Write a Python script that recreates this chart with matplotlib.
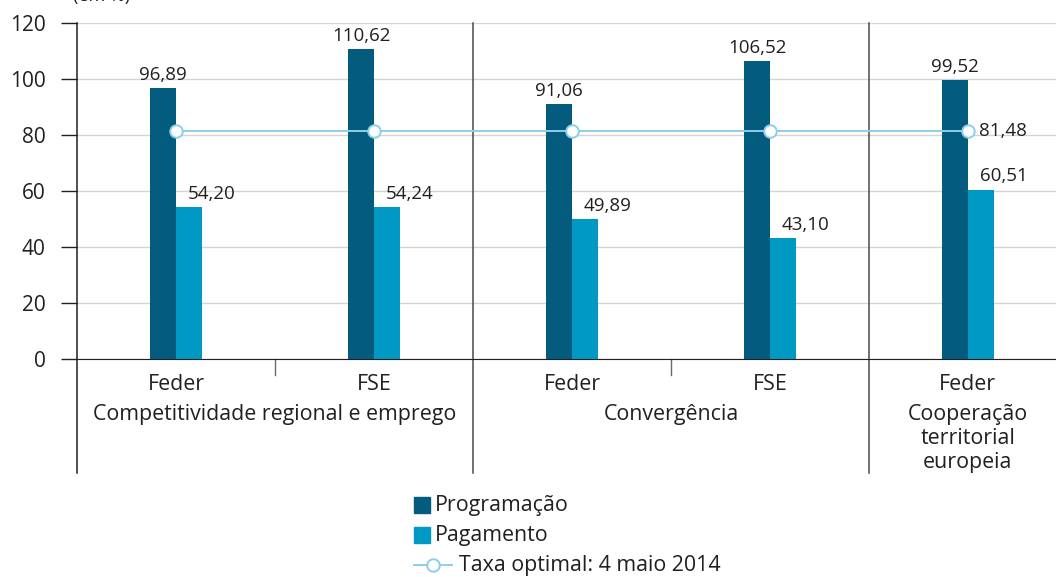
import matplotlib

matplotlib.use("Agg")
import matplotlib.pyplot as plt
from matplotlib.lines import Line2D
from matplotlib.patches import Rectangle

plt.rcParams["font.family"] = ["Open Sans", "DejaVu Sans"]

funds = ["Feder", "FSE", "Feder", "FSE", "Feder"]
groups = ["Competitividade regional e emprego", "Convergência",
          "Cooperação\nterritorial\neuropeia"]
group_spans = [(0, 1), (2, 3), (4, 4)]
programacao = [96.89, 110.62, 91.06, 106.52, 99.52]
pagamento = [54.20, 54.24, 49.89, 43.10, 60.51]
taxa_optimal = 81.48
legend_labels = ["Programação", "Pagamento", "Taxa optimal: 4 maio 2014"]

DARK = "#035b7e"
LIGHT = "#0099c4"
LINE = "#8dcfe8"
INK = "#231f20"
FS = 15.4

W, H = 1056, 577
fig = plt.figure(figsize=(W / 100, H / 100), dpi=100)
ax = fig.add_axes([77 / W, 1 - 359 / H, 1 - 77 / W, (359 - 23) / H])

x = list(range(len(funds)))
w = 0.13
ax.bar([i - w / 2 for i in x], programacao, w, color=DARK, zorder=3)
ax.bar([i + w / 2 for i in x], pagamento, w, color=LIGHT, zorder=3)
ax.plot(x, [taxa_optimal] * len(x), color=LINE, lw=1.4, zorder=4,
        marker="o", ms=9, mfc="white", mec=LINE, mew=1.4)

fmt = lambda v: f"{v:.2f}".replace(".", ",")
for i, (p, q) in enumerate(zip(programacao, pagamento)):
    ax.text(i - w / 2, p + 1.5, fmt(p), ha="center", va="bottom",
            fontsize=13.5, color=INK, zorder=5)
    ax.text(i + w / 2 - 0.005, q + 1.5, fmt(q), ha="left", va="bottom",
            fontsize=13.5, color=INK, zorder=5)
ax.text(x[-1] + 0.055, taxa_optimal, fmt(taxa_optimal), ha="left", va="center",
        fontsize=13.5, color=INK, zorder=5)

ax.set_xlim(-0.5, 4.445)
ax.set_ylim(0, 120)
ax.set_yticks(range(0, 121, 20))
ax.tick_params(axis="y", labelsize=15, colors=INK, length=11.5, width=1, pad=11)
ax.set_xticks([])
ax.grid(axis="y", color="#d4d4d4", lw=1, zorder=0)
for s in ["top", "right", "left"]:
    ax.spines[s].set_visible(False)
ax.spines["bottom"].set_color(INK)

# group separators, running down through the category labels
tr = ax.get_xaxis_transform()
bottom = -(473 - 359) / (359 - 23)
for xs in [-0.5, 1.5, 3.5]:
    ax.add_line(Line2D([xs, xs], [bottom, 1], transform=tr,
                       color=INK if xs < 0 else "#4a4a4a", lw=1.1, clip_on=False))
for xs in [0.5, 2.5]:
    ax.add_line(Line2D([xs, xs], [0, -16 / 336], transform=tr,
                       color="#6a6a6a", lw=1, clip_on=False))

for i, f in enumerate(funds):
    ax.text(i, -26 / 336, f, transform=tr, ha="center", va="center",
            fontsize=FS, color=INK)
for g, (a, b) in zip(groups, group_spans):
    ax.text((a + b) / 2, -45 / 336, g, transform=tr, ha="center", va="top",
            fontsize=FS, color=INK, linespacing=1.2)

# unit note, cropped at the top edge as in the source
fig.text(73 / W, 1 + 4 / H, "(em %)", ha="left", va="center", fontsize=13, color=INK)

# legend drawn by hand: line entry is wider than the swatches
rows = [1 - 505 / H, 1 - 535 / H, 1 - 565 / H]
for y, c in zip(rows[:2], [DARK, LIGHT]):
    fig.add_artist(Rectangle((414 / W, y - 8 / H), 16 / W, 16 / H,
                             transform=fig.transFigure, color=c))
fig.add_artist(Line2D([414 / W, 452 / W], [rows[2]] * 2, transform=fig.transFigure,
                      color=LINE, lw=1.4))
fig.add_artist(Line2D([433 / W], [rows[2]], transform=fig.transFigure, marker="o",
                      ms=9, mfc="white", mec=LINE, mew=1.4))
for y, lab, x0 in zip(rows, legend_labels, [435, 435, 459]):
    fig.text(x0 / W, y, lab, ha="left", va="center", fontsize=FS, color=INK)

fig.savefig("out.png", dpi=100)
